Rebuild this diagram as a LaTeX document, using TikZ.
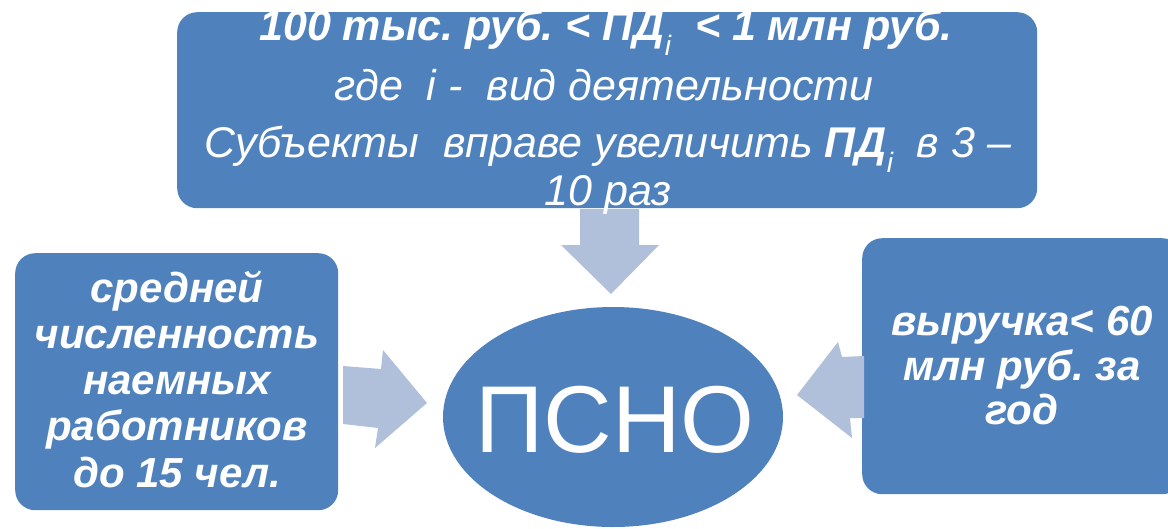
\documentclass[tikz,border=0pt]{standalone}
\usepackage{fontspec}
\setmainfont{Liberation Sans}
\usetikzlibrary{shapes.geometric}
\definecolor{boxblue}{RGB}{79,129,189}
\definecolor{arrowblue}{RGB}{176,192,218}
\newcommand\subidx{\raisebox{-15pt}{\fontsize{28}{28}\selectfont\mdseries\itshape i}}
\frenchspacing
\begin{document}
\begin{tikzpicture}[x=1pt,y=-1pt,
  bluebox/.style={fill=boxblue, draw=none, rounded corners=20pt, inner sep=0pt, anchor=north west},
  toptext/.style={text=white, anchor=base, inner sep=0pt, font=\itshape\fontsize{43}{48}\selectfont},
  sidetext/.style={text=white, anchor=base, inner sep=0pt, font=\bfseries\itshape\fontsize{42}{46}\selectfont},
  blockarrow/.style={fill=arrowblue, draw=none}]
\useasboundingbox (0,0) rectangle (1168,528);
% boxes
\node[bluebox, minimum width=860pt, minimum height=196pt] (top) at (177,12) {};
\node[bluebox, minimum width=323pt, minimum height=257pt] (left) at (15,253) {};
\node[bluebox, minimum width=320pt, minimum height=256pt] (right) at (862,238) {};
\node[ellipse, fill=boxblue, draw=none, inner sep=0pt, minimum width=340pt, minimum height=220pt] (psno) at (613,417) {};
% arrows
\fill[blockarrow] (580,209) -- (639,209) -- (639,245) -- (659,245) -- (611,294) -- (561,245) -- (580,245) -- cycle;
\fill[blockarrow] (343,366) -- (381,369) -- (383,350) -- (427,403) -- (375,448) -- (378,428) -- (343,424) -- cycle;
\fill[blockarrow] (797,395) -- (838,342) -- (842,357) -- (864,356) -- (864,418) -- (850,418) -- (852,438) -- cycle;
% top text
\node[toptext] (t1) at (606,40) {\bfseries 100 тыс. руб. < ПД\subidx\ \ < 1 млн руб.};
\node[toptext] (t2) at (604,100) {где\ \ i -\ \ вид деятельности};
\node[toptext] (t3) at (608,157) {Субъекты\ \ вправе увеличить \textbf{ПД}\subidx\ \ в 3 –};
\node[toptext] (t4) at (608,205) {10 раз};
% left text
\foreach \t/\y [count=\k] in {средней/302, численность/348, наемных/394, работников/440, до 15 чел./487}
  \node[sidetext] (l\k) at (177,\y) {\t};
% right text
\foreach \t/\y [count=\k] in {выручка< 60/335, млн руб. за/380, год/424}
  \node[sidetext] (r\k) at (1022,\y) {\t};
% centre text
\node[text=white, anchor=base, inner sep=0pt, font=\fontsize{95}{95}\selectfont] (ptext) at (615,452) {ПСНО};
\end{tikzpicture}
\end{document}
